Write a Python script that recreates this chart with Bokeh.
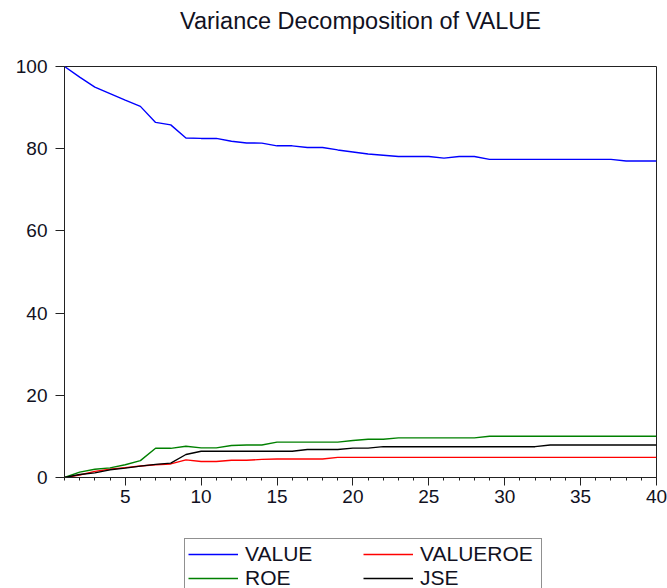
from bokeh.plotting import figure
from bokeh.layouts import column
from bokeh.models import Legend, LegendItem, SingleIntervalTicker, Range1d
from bokeh.embed import file_html
from bokeh.resources import INLINE

# Forecast horizon (periods)
periods = list(range(1, 41))

# Share of the forecast-error variance of VALUE explained by each shock (%)
value_share = [100.0, 97.4, 95.0, 93.4, 91.8, 90.3, 86.4, 85.8, 82.6, 82.5,
               82.5, 81.8, 81.4, 81.35, 80.7, 80.7, 80.3, 80.3, 79.7, 79.2,
               78.7, 78.4, 78.1, 78.1, 78.1, 77.7, 78.1, 78.1, 77.4, 77.4,
               77.4, 77.4, 77.4, 77.4, 77.4, 77.4, 77.4, 77.0, 77.0, 77.0]
valueroe_share = [0.0, 0.6, 1.5, 2.0, 2.4, 2.8, 3.1, 3.3, 4.3, 3.9,
                  3.9, 4.2, 4.2, 4.4, 4.5, 4.5, 4.5, 4.5, 4.9, 4.9,
                  4.9, 4.9, 4.9, 4.9, 4.9, 4.9, 4.9, 4.9, 4.9, 4.9,
                  4.9, 4.9, 4.9, 4.9, 4.9, 4.9, 4.9, 4.9, 4.9, 4.9]
roe_share = [0.0, 1.3, 2.0, 2.35, 3.1, 4.1, 7.1, 7.1, 7.6, 7.2,
             7.2, 7.8, 7.9, 7.9, 8.6, 8.6, 8.6, 8.6, 8.6, 9.0,
             9.3, 9.3, 9.65, 9.65, 9.65, 9.65, 9.65, 9.65, 10.05, 10.05,
             10.05, 10.05, 10.05, 10.05, 10.05, 10.05, 10.05, 10.05, 10.05, 10.05]
jse_share = [0.0, 0.73, 1.13, 1.87, 2.27, 2.76, 3.2, 3.5, 5.6, 6.4,
             6.4, 6.4, 6.4, 6.4, 6.4, 6.4, 6.8, 6.8, 6.8, 7.15,
             7.15, 7.5, 7.5, 7.5, 7.5, 7.5, 7.5, 7.5, 7.5, 7.5,
             7.5, 7.5, 7.9, 7.9, 7.9, 7.9, 7.9, 7.9, 7.9, 7.9]

series_names = ["VALUE", "VALUEROE", "ROE", "JSE"]
series_values = [value_share, valueroe_share, roe_share, jse_share]
series_colors = ["#0000ff", "#ff0000", "#008000", "#000000"]
legend_order = ["VALUE", "ROE", "VALUEROE", "JSE"]

FONT = "Liberation Sans"
INK = "#111122"
LINE_W = 1.4

# ---- main chart -------------------------------------------------------
p = figure(width=667, height=538, output_backend="svg", toolbar_location=None,
           x_range=Range1d(1, 40), y_range=Range1d(0, 100),
           min_border_left=64, min_border_right=11,
           min_border_top=0, min_border_bottom=61,
           title="Variance Decomposition of VALUE")

p.title.align = "center"
p.title.text_font = FONT
p.title.text_font_size = "23.5px"
p.title.text_font_style = "normal"
p.title.text_color = INK
# extra room under the title keeps it near the top edge of the canvas
p.title.padding = dict(left=0, right=0, top=0, bottom=27)
p.title.standoff = 11

p.grid.visible = False
p.outline_line_color = "#222222"
p.outline_line_width = 1
p.background_fill_color = "white"
p.border_fill_color = "white"

p.xaxis.ticker = SingleIntervalTicker(interval=5, num_minor_ticks=5)
p.yaxis.ticker = SingleIntervalTicker(interval=20, num_minor_ticks=0)

for ax in (p.xaxis[0], p.yaxis[0]):
    ax.axis_line_color = "#222222"
    ax.major_tick_line_color = "#222222"
    ax.minor_tick_line_color = "#222222"
    ax.major_tick_in = 0
    ax.minor_tick_in = 0
    ax.major_label_text_font = FONT
    ax.major_label_text_font_size = "19px"
    ax.major_label_text_color = INK

p.xaxis.major_tick_out = 8
p.xaxis.minor_tick_out = 3
p.xaxis.major_label_standoff = 4
p.yaxis.major_tick_out = 9
p.yaxis.minor_tick_line_color = None
p.yaxis.major_label_standoff = 8

for name, ys, col in zip(series_names, series_values, series_colors):
    p.line(periods, ys, line_color=col, line_width=LINE_W)

# ---- legend strip under the chart --------------------------------------
leg = figure(width=667, height=50, output_backend="svg", toolbar_location=None,
             x_range=Range1d(0, 1), y_range=Range1d(0, 1),
             x_axis_location=None, y_axis_location=None,
             min_border=0, outline_line_color=None)
leg.grid.visible = False
leg.background_fill_color = "white"
leg.border_fill_color = "white"

# legend keys: one-point (NaN) line renderers carrying each series' style
nan = float("nan")
keys = {name: leg.line([nan], [nan], line_color=col, line_width=LINE_W)
        for name, col in zip(series_names, series_colors)}

legend = Legend(
    items=[LegendItem(label=n, renderers=[keys[n]]) for n in legend_order],
    location=(120, -6), ncols=2,
    padding=3, spacing=0, margin=0,
    glyph_width=50, glyph_height=24, label_height=24, label_width=118,
    label_standoff=7,
    label_text_font=FONT, label_text_font_size="21px", label_text_color=INK,
    border_line_color="#222222", border_line_width=1,
    background_fill_color="white", background_fill_alpha=1.0,
)
leg.add_layout(legend, "center")

layout = column(p, leg, spacing=0)
open("out.html", "w").write(file_html(layout, INLINE))
